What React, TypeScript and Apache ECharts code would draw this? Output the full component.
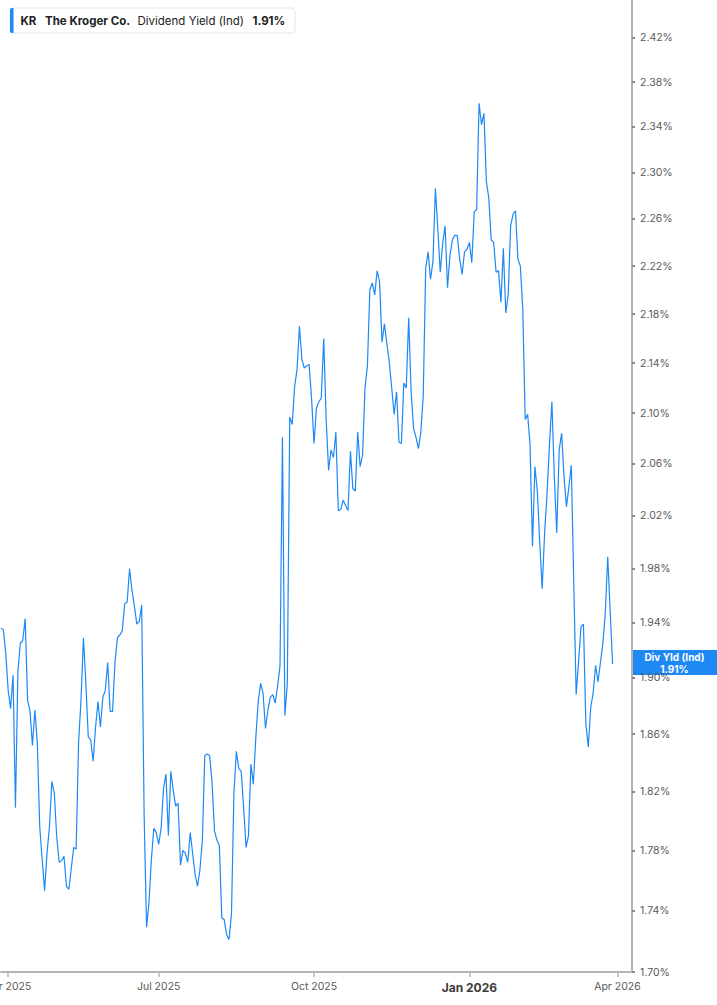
import React, { useEffect, useRef } from 'react';
import * as echarts from 'echarts';

// ---- data ----
const START_DATE = '2025-03-27';
const CATEGORY_COUNT = 261;
const HOLIDAYS = [
  '2025-04-18', '2025-05-26', '2025-06-19', '2025-07-04', '2025-09-01',
  '2025-11-27', '2025-12-25', '2026-01-01', '2026-01-19', '2026-02-16', '2026-04-03',
];
const QUARTER_MONTHS = [0, 3, 6, 9];
const MONTH_NAMES = ['Jan', 'Feb', 'Mar', 'Apr', 'May', 'Jun', 'Jul', 'Aug', 'Sep', 'Oct', 'Nov', 'Dec'];
const Y_TICKS = [1.70, 1.74, 1.78, 1.82, 1.86, 1.90, 1.94, 1.98, 2.02, 2.06, 2.10, 2.14, 2.18, 2.22, 2.26, 2.30, 2.34, 2.38, 2.42];
const Y_MIN = 1.70;
const Y_MAX = 2.455;
const LAST_VALUE = 1.91;

const yieldValues = [
  1.936, 1.935, 1.918, 1.891, 1.878, 1.902, 1.809, 1.904, 1.925, 1.927,
  1.943, 1.884, 1.876, 1.852, 1.877, 1.854, 1.796, 1.774, 1.753, 1.778,
  1.796, 1.827, 1.819, 1.789, 1.772, 1.773, 1.776, 1.756, 1.754, 1.768,
  1.782, 1.781, 1.854, 1.884, 1.929, 1.896, 1.858, 1.856, 1.841, 1.865,
  1.883, 1.865, 1.886, 1.891, 1.911, 1.876, 1.876, 1.911, 1.929, 1.931,
  1.934, 1.954, 1.955, 1.980, 1.964, 1.952, 1.939, 1.941, 1.953, 1.805,
  1.729, 1.745, 1.774, 1.795, 1.792, 1.784, 1.795, 1.822, 1.832, 1.790,
  1.834, 1.821, 1.810, 1.812, 1.770, 1.780, 1.778, 1.772, 1.792, 1.778,
  1.764, 1.756, 1.767, 1.787, 1.845, 1.846, 1.845, 1.826, 1.793, 1.787,
  1.783, 1.735, 1.734, 1.724, 1.721, 1.738, 1.819, 1.848, 1.836, 1.834,
  1.809, 1.782, 1.790, 1.839, 1.825, 1.857, 1.883, 1.896, 1.889, 1.864,
  1.877, 1.886, 1.888, 1.882, 1.894, 1.909, 2.081, 1.873, 1.896, 2.097,
  2.091, 2.121, 2.135, 2.170, 2.143, 2.136, 2.138, 2.139, 2.111, 2.076,
  2.104, 2.109, 2.112, 2.160, 2.095, 2.055, 2.071, 2.065, 2.085, 2.024,
  2.025, 2.032, 2.028, 2.024, 2.070, 2.041, 2.039, 2.085, 2.058, 2.067,
  2.120, 2.138, 2.200, 2.206, 2.196, 2.216, 2.207, 2.157, 2.172, 2.156,
  2.141, 2.120, 2.099, 2.117, 2.077, 2.076, 2.124, 2.120, 2.177, 2.117,
  2.088, 2.081, 2.072, 2.085, 2.114, 2.218, 2.232, 2.209, 2.224, 2.286,
  2.252, 2.215, 2.239, 2.254, 2.202, 2.229, 2.242, 2.246, 2.246, 2.226,
  2.213, 2.232, 2.234, 2.240, 2.223, 2.266, 2.268, 2.361, 2.342, 2.352,
  2.292, 2.278, 2.242, 2.240, 2.215, 2.216, 2.190, 2.235, 2.181, 2.196,
  2.254, 2.264, 2.267, 2.226, 2.220, 2.184, 2.095, 2.099, 2.075, 1.997,
  2.058, 2.039, 1.999, 1.965, 2.007, 2.037, 2.075, 2.109, 2.050, 2.007,
  2.071, 2.084, 2.050, 2.027, 2.042, 2.059, 1.970, 1.888, 1.912, 1.937,
  1.939, 1.867, 1.851, 1.879, 1.889, 1.909, 1.897, 1.911, 1.925, 1.947,
  1.989, 1.949, 1.910,
];

function buildTradingDays(start: string, count: number, holidays: string[]): string[] {
  const out: string[] = [];
  const [y, m, d] = start.split('-').map(Number);
  let t = Date.UTC(y, m - 1, d);
  while (out.length < count) {
    const dt = new Date(t);
    const dow = dt.getUTCDay();
    const s = dt.toISOString().slice(0, 10);
    if (dow !== 0 && dow !== 6 && holidays.indexOf(s) < 0) out.push(s);
    t += 86400000;
  }
  return out;
}

const BLUE = '#1e88f5';
const AXIS_GRAY = '#b4b4b4';
const FONT = 'Inter, "Noto Sans", sans-serif';

export default function App() {
  const ref = useRef<HTMLDivElement>(null);

  useEffect(() => {
    if (!ref.current) return;
    const chart = echarts.init(ref.current, undefined, { renderer: 'svg' });
    const dates = buildTradingDays(START_DATE, CATEGORY_COUNT, HOLIDAYS);
    const monthOf = (s: string) => Number(s.slice(5, 7)) - 1;
    const isQuarterStart = dates.map((s, i) =>
      i > 0 && monthOf(s) !== monthOf(dates[i - 1]) && QUARTER_MONTHS.indexOf(monthOf(s)) >= 0
    );

    chart.setOption({
      animation: false,
      backgroundColor: '#ffffff',
      grid: { left: 0.9, right: 85, top: 0, bottom: 33, outerBoundsMode: 'none', containLabel: false },
      xAxis: {
        type: 'category',
        data: dates,
        boundaryGap: false,
        axisLine: { show: true, lineStyle: { color: AXIS_GRAY, width: 2 } },
        axisTick: {
          show: true,
          length: 5,
          interval: (i: number) => isQuarterStart[i],
          lineStyle: { color: AXIS_GRAY, width: 1.5 },
        },
        axisLabel: {
          show: true,
          interval: (i: number) => isQuarterStart[i],
          margin: 9,
          color: '#5a5a5a',
          fontSize: 10.5,
          fontFamily: FONT,
          formatter: (v: string) => {
            const m = monthOf(v);
            const txt = MONTH_NAMES[m] + ' ' + v.slice(0, 4);
            return m === 0 ? '{jan|' + txt + '}' : txt;
          },
          rich: {
            jan: { fontWeight: 'bold', fontSize: 12, color: '#3a3a3a', fontFamily: FONT },
          },
        },
        splitLine: { show: false },
      },
      yAxis: {
        type: 'value',
        position: 'right',
        min: Math.log(Y_MIN),
        max: Math.log(Y_MAX),
        axisLine: { show: true, lineStyle: { color: AXIS_GRAY, width: 2 } },
        axisTick: {
          show: true,
          length: 3,
          customValues: Y_TICKS.map((v) => Math.log(v)),
          lineStyle: { color: '#8a8a8a', width: 2 },
        },
        axisLabel: {
          show: true,
          margin: 8,
          color: '#5a5a5a',
          fontSize: 10.5,
          fontFamily: FONT,
          customValues: Y_TICKS.map((v) => Math.log(v)),
          formatter: (v: number) => Math.exp(v).toFixed(2) + '%',
        },
        splitLine: { show: false },
      },
      series: [
        {
          type: 'line',
          data: yieldValues.map((v) => Math.log(v)),
          showSymbol: false,
          symbol: 'none',
          lineStyle: { color: BLUE, width: 1.2 },
          silent: true,
        },
      ],
    });

    const py = chart.convertToPixel({ yAxisIndex: 0 }, Math.log(LAST_VALUE)) as number;

    chart.setOption({
      graphic: [
        {
          type: 'rect',
          shape: { x: 10, y: 8, width: 285, height: 25, r: 3 },
          style: { fill: '#ffffff', stroke: '#e6e6e6', lineWidth: 1 },
        },
        {
          type: 'rect',
          shape: { x: 10, y: 8, width: 3.5, height: 25, r: [2, 0, 0, 2] },
          style: { fill: BLUE },
        },
        {
          type: 'text', x: 20.5, y: 21,
          style: { text: 'KR', fill: '#222', font: 'bold 11.5px ' + FONT, verticalAlign: 'middle' },
        },
        {
          type: 'text', x: 45, y: 21,
          style: { text: 'The Kroger Co.', fill: '#222', font: 'bold 11.5px ' + FONT, verticalAlign: 'middle' },
        },
        {
          type: 'text', x: 137.5, y: 21,
          style: { text: 'Dividend Yield (Ind)', fill: '#222', font: '11.5px ' + FONT, verticalAlign: 'middle' },
        },
        {
          type: 'text', x: 252.5, y: 21,
          style: { text: '1.91%', fill: '#222', font: 'bold 11.5px ' + FONT, verticalAlign: 'middle' },
        },
        {
          type: 'rect',
          shape: { x: 632, y: py - 14, width: 85, height: 25 },
          style: { fill: BLUE },
        },
        {
          type: 'text', x: 674.5, y: py - 6.8,
          style: { text: 'Div Yld (Ind)', fill: '#ffffff', font: 'bold 10px ' + FONT, align: 'center', verticalAlign: 'middle' },
        },
        {
          type: 'text', x: 674.5, y: py + 4.6,
          style: { text: LAST_VALUE.toFixed(2) + '%', fill: '#ffffff', font: 'bold 10px ' + FONT, align: 'center', verticalAlign: 'middle' },
        },
      ],
    });

    return () => chart.dispose();
  }, []);

  return (
    <div
      ref={ref}
      style={{ position: 'absolute', left: 0, top: 0, width: 717, height: 1005, background: '#ffffff' }}
    />
  );
}
